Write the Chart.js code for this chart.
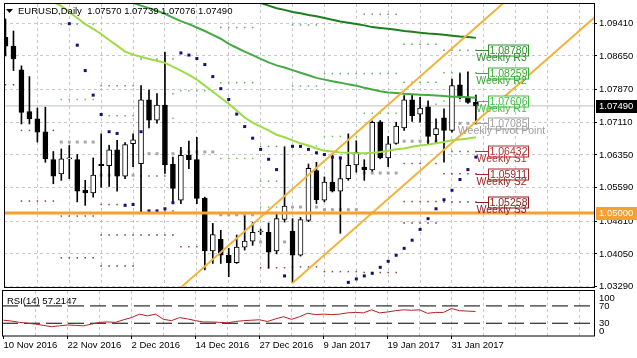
<!DOCTYPE html>
<html><head><meta charset="utf-8">
<script src="https://cdn.jsdelivr.net/npm/chart.js@4.4.1/dist/chart.umd.min.js"></script>
<style>
html,body{margin:0;padding:0;background:#fff;overflow:hidden}
#wrap{position:relative;width:637px;height:358px;background:#fff}
#main{position:absolute;left:0;top:0}
#rsi{position:absolute;left:0;top:289px}
</style></head><body>
<div id="wrap"><canvas id="main" width="637" height="291"></canvas><canvas id="rsi" width="637" height="69"></canvas></div>
<script>
// ---------- DATA ----------
const symbolTitle = 'EURUSD,Daily';
const dateTickLabels = ['10 Nov 2016','22 Nov 2016','2 Dec 2016','14 Dec 2016','27 Dec 2016','9 Jan 2017','19 Jan 2017','31 Jan 2017'];
const dateTickBars = [0,8,16,24,32,40,48,56];
const priceTickLabels = ['1.09410','1.08650','1.07870','1.07110','1.06350','1.05590','1.04810','1.04050','1.03290'];
const rsiTickLabels = ['100','70','30','0'];
const rsiTickValues = [100,70,30,0];
const rsiLevels = [70,30];

const opens  = [1.0908,1.0888,1.0833,1.0736,1.0719,1.0689,1.0624,1.0591,1.0626,1.0624,
                1.0553,1.0547,1.0613,1.0610,1.0647,1.0586,1.0661,1.0615,1.0763,1.0716,
                1.0751,1.0613,1.0530,1.0635,1.0624,1.0535,1.0412,1.0439,1.0402,1.0385,
                1.0421,1.0435,1.0456,1.0455,1.0412,1.0485,1.0458,1.0402,1.0483,1.0599,
                1.0530,1.0572,1.0551,1.0580,1.0612,1.0607,1.0600,1.0712,1.0628,1.0662,
                1.0698,1.0763,1.0730,1.0747,1.0682,1.0721,1.0692,1.0798,1.0768,1.07570];
const highs  = [1.0951,1.0923,1.0842,1.0817,1.0744,1.0746,1.0643,1.0649,1.0657,1.0636,
                1.0576,1.0628,1.0684,1.0657,1.0669,1.0664,1.0684,1.0796,1.0786,1.0777,
                1.0874,1.0630,1.0653,1.0667,1.0676,1.0537,1.0476,1.0460,1.0418,1.0449,
                1.0493,1.0478,1.0463,1.0477,1.0499,1.0653,1.0487,1.0490,1.0614,1.0618,
                1.0584,1.0638,1.0630,1.0684,1.0668,1.0624,1.0714,1.0715,1.0678,1.0711,
                1.0773,1.0775,1.0769,1.0761,1.0719,1.0742,1.0811,1.0824,1.0828,1.07739];
const lows   = [1.0865,1.0831,1.0707,1.0707,1.0665,1.0618,1.0568,1.0576,1.0580,1.0526,
                1.0518,1.0537,1.0560,1.0562,1.0551,1.0580,1.0608,1.0503,1.0698,1.0709,
                1.0592,1.0524,1.0522,1.0603,1.0522,1.0368,1.0383,1.0383,1.0352,1.0383,
                1.0414,1.0425,1.0450,1.0372,1.0405,1.0479,1.0338,1.0400,1.0480,1.0522,
                1.0526,1.0549,1.0453,1.0576,1.0595,1.0576,1.0597,1.0626,1.0608,1.0660,
                1.0692,1.0713,1.0711,1.0661,1.0661,1.0618,1.0688,1.0765,1.0755,1.07076];
const closes = [1.0888,1.0858,1.0734,1.0719,1.0688,1.0626,1.0586,1.0626,1.0628,1.0551,
                1.0547,1.0588,1.0610,1.0647,1.0586,1.0659,1.0670,1.0763,1.0716,1.0751,
                1.0612,1.0557,1.0634,1.0624,1.0534,1.0412,1.0450,1.0402,1.0385,1.0421,
                1.0435,1.0455,1.0457,1.0409,1.0487,1.0516,1.0402,1.0485,1.0604,1.0531,
                1.0572,1.0551,1.0580,1.0611,1.0641,1.0600,1.0711,1.0628,1.0661,1.0702,
                1.0763,1.0726,1.0744,1.0678,1.0696,1.0692,1.0796,1.0769,1.0757,1.07490];

// moving averages (light green fast, medium green, dark green slow)
const maFast = [null,null,null,null,null,1.1006,1.0990,1.0981,1.0967,1.0953,
                1.0939,1.0928,1.0916,1.0902,1.0889,1.0875,1.0868,1.0863,1.0858,1.0854,
                1.0849,1.0840,1.0831,1.0821,1.0810,1.0796,1.0782,1.0768,1.0754,1.0738,
                1.0722,1.0710,1.0701,1.0692,1.0682,1.0676,1.0669,1.0662,1.0657,1.0650,
                1.0645,1.0643,1.0641,1.0640,1.0639,1.0639,1.0640,1.0642,1.0645,1.0648,
                1.0650,1.0654,1.0657,1.0659,1.0662,1.0665,1.0669,1.0671,1.0673,1.0676];
const maMid  = [null,null,null,null,null,null,null,null,null,null,
                null,null,null,null,1.1002,1.0993,1.0988,1.0982,1.0976,1.0970,
                1.0963,1.0954,1.0946,1.0939,1.0931,1.0923,1.0914,1.0905,1.0893,1.0884,
                1.0875,1.0867,1.0858,1.0850,1.0843,1.0838,1.0832,1.0826,1.0820,1.0814,
                1.0810,1.0806,1.0803,1.0799,1.0796,1.0791,1.0787,1.0783,1.0780,1.0779,
                1.0777,1.0776,1.0775,1.0774,1.0773,1.0772,1.0770,1.0770,1.0769,1.0768];
const maSlow = [null,null,null,null,null,null,null,null,null,null,
                null,null,null,null,null,null,null,null,null,null,
                null,null,null,null,null,null,null,null,null,null,
                1.1007,1.0997,1.0988,1.0982,1.0976,1.0972,1.0967,1.0964,1.0960,1.0957,
                1.0953,1.0949,1.0945,1.0942,1.0939,1.0936,1.0932,1.0930,1.0928,1.0926,
                1.0923,1.0921,1.0919,1.0917,1.0916,1.0914,1.0912,1.0910,1.0909,1.0907];

// parabolic SAR
const sarValues = [null,null,null,null,null,null,null,null,1.0940,1.0890,
                   1.0831,1.0774,1.0729,1.0689,1.0685,1.0518,1.0520,1.0689,1.0505,1.0505,
                   1.0510,1.0524,1.0872,1.0867,1.0859,1.0845,1.0817,1.0789,1.0764,1.0730,
                   1.0701,1.0674,1.0648,1.0625,1.0601,1.0354,1.0655,1.0655,1.0648,1.0640,
                   1.0636,1.0630,1.0628,1.0339,1.0347,1.0354,1.0360,1.0374,1.0388,1.0402,
                   1.0418,1.0437,1.0462,1.0487,1.0510,1.0531,1.0553,1.0578,1.0601,1.0630];

// RSI(14)
const rsiValues = [37,35,32,30,28,25,22,24,26,25,24,28,32,33,32,38,43,51,47,51,
                   39,36,43,40,36,33,33,32,31,34,36,37,38,34,40,45,39,45,53,50,
                   51,50,51,54,55,54,61,54,56,59,61,60,61,53,55,55,64,59,58,57.2147];

// weekly pivot levels (one entry per week)
const pivotWeekFirstBar = [0,2,7,12,17,22,27,32,36,40,45,50,55];
const pivotWeekLastBar  = [1,6,11,16,21,26,31,35,39,44,49,54,59];
const pivotR3 = [null,null,null,1.0796,1.0858,null,1.0931,1.0655,1.0937,null,1.0962,1.0892,1.08780];
const pivotR2 = [null,null,1.0939,1.0726,1.0777,null,1.0803,1.0574,1.0795,1.0824,1.0824,1.0804,1.08259];
const pivotR1 = [null,null,1.0764,1.0657,1.0720,1.0784,1.0627,1.0514,1.0656,1.0678,1.0732,1.0753,1.07606];
const pivotPP = [null,null,1.0665,1.0588,1.0638,1.0642,1.0496,1.0433,1.0514,1.0508,1.0593,1.0667,1.07085];
const pivotS1 = [null,1.0692,1.0493,1.0520,1.0586,1.0422,null,1.0373,1.0375,1.0364,1.0501,1.0615,1.06432];
const pivotS2 = [1.0869,1.0528,1.0396,1.0449,1.0505,null,null,null,null,null,1.0362,1.0527,1.05911];
const pivotS3 = [1.0798,null,null,1.0377,1.0449,null,null,null,null,null,null,1.0477,1.05258];

// trend channel (bar index, price) and horizontal level
const channelUpperBars = [20,75];
const channelUpperPrices = [1.02945,1.11928];
const channelLowerBars = [36,75];
const channelLowerPrices = [1.03378,1.09727];
const hLevel = 1.05000;

// ---------- SETUP ----------
const FONT_FAMILY = "'Liberation Sans', Arial, sans-serif";
const pxFont = s => s + "px " + FONT_FAMILY;
Chart.defaults.font.family = FONT_FAMILY;
Chart.defaults.font.size = 9.5;
Chart.defaults.color = '#000';

const X_MIN = -0.1875, X_MAX = 73.8125;
const Y_MIN = 1.032827, Y_MAX = 1.098568;
const gridBars = []; for (let b = 4; b <= 72; b += 4) gridBars.push(b);
const rsiAxisBars = []; for (let b = 0; b <= 72; b += 4) rsiAxisBars.push(b);
const GRID = '#c8c8c8';

const bars = opens.map((_, i) => i);
const toPts = arr => { const o = []; arr.forEach((v, i) => { if (v !== null) o.push({x: i, y: v}); }); return o; };
const lineDs = (data, color, width, order, extra) => Object.assign({type: 'line', data, borderColor: color, borderWidth: width, pointRadius: 0, tension: 0, fill: false, order}, extra || {});

const pivotDefs = [
  {arr: pivotR3, dot: '#5f9f5f', r: 1.06, label: 'Weekly R3', color: '#2f8f2f'},
  {arr: pivotR2, dot: '#5fae5f', r: 1.06, label: 'Weekly R2', color: '#3aa83a'},
  {arr: pivotR1, dot: '#66c066', r: 1.06, label: 'Weekly R1', color: '#44bb44'},
  {arr: pivotPP, dot: '#a8a8a8', r: 2.12, label: 'Weekly Pivot Point', color: '#a0a0a0'},
  {arr: pivotS1, dot: '#a04040', r: 1.06, label: 'Weekly S1', color: '#b03030'},
  {arr: pivotS2, dot: '#903838', r: 1.06, label: 'Weekly S2', color: '#a02424'},
  {arr: pivotS3, dot: '#803030', r: 1.06, label: 'Weekly S3', color: '#8b1a1a'}
];
const pivotDatasets = pivotDefs.map(d => {
  const pts = [];
  pivotWeekFirstBar.forEach((b0, w) => {
    const v = d.arr[w]; if (v === null) return;
    for (let b = b0; b <= pivotWeekLastBar[w]; b++) pts.push({x: b, y: v});
  });
  return {type: 'line', data: pts, showLine: false, pointStyle: 'rect', pointRadius: d.r, pointBorderWidth: 0, pointBackgroundColor: d.dot, order: 20};
});

const datasets = [
  lineDs([{x: X_MIN, y: closes[closes.length-1]}, {x: X_MAX, y: closes[closes.length-1]}], '#c0c0c0', 1, 25),
  ...pivotDatasets,
  {type: 'bar', data: bars.map(i => ({x: i, y: [lows[i], highs[i]]})), backgroundColor: '#000', borderWidth: 0, barThickness: 1, grouped: false, order: 15},
  {type: 'bar', data: bars.map(i => ({x: i, y: [opens[i], closes[i]]})), backgroundColor: bars.map(i => closes[i] >= opens[i] ? '#ffffff' : '#000000'),
   borderColor: '#000', borderWidth: 1, borderSkipped: false, barThickness: 5, minBarLength: 1, grouped: false, order: 14},
  {type: 'line', data: toPts(sarValues), showLine: false, pointStyle: 'rect', pointRadius: 2.12, pointBorderWidth: 0, pointBackgroundColor: '#10107a', order: 10},
  lineDs(toPts(maSlow), '#1f7f1f', 2, 8),
  lineDs(toPts(maMid), '#44aa44', 2, 7),
  lineDs(toPts(maFast), '#9ddc45', 2, 6),
  lineDs(channelUpperBars.map((b, k) => ({x: b, y: channelUpperPrices[k]})), '#f0b43c', 2, 4),
  lineDs(channelLowerBars.map((b, k) => ({x: b, y: channelLowerPrices[k]})), '#f0b43c', 2, 4),
  lineDs([{x: X_MIN, y: hLevel}, {x: X_MAX, y: hLevel}], '#f5a030', 3, 2)
];

const mainOverlay = {
  id: 'mainOverlay',
  afterDatasetsDraw(chart) {
    const {ctx, scales: {x, y}} = chart;
    ctx.save();
    const w = pivotWeekLastBar.length - 1;
    const x0 = Math.round(x.getPixelForValue(pivotWeekLastBar[w]));
    pivotDefs.forEach(d => {
      const v = d.arr[w];
      const py = Math.round(y.getPixelForValue(v)) + 0.5;
      ctx.strokeStyle = d.color; ctx.lineWidth = 1;
      ctx.beginPath(); ctx.moveTo(x0, py); ctx.lineTo(x0 + 12, py); ctx.stroke();
      const bx = x0 + 12.5, bw = 40, bh = 11;
      ctx.fillStyle = '#ffffff'; ctx.fillRect(bx, py - 5.5, bw, bh);
      ctx.strokeRect(bx, py - 5.5, bw, bh);
      ctx.fillStyle = d.color; ctx.font = pxFont(10.5); ctx.textAlign = 'center'; ctx.textBaseline = 'middle';
      ctx.fillText(v.toFixed(5), bx + bw / 2, py + 0.5);
      ctx.fillText(d.label, bx + 13, py + 7.5);
    });
    ctx.fillStyle = '#000';
    ctx.beginPath(); ctx.moveTo(6, 9); ctx.lineTo(13, 9); ctx.lineTo(9.5, 13); ctx.closePath(); ctx.fill();
    ctx.font = pxFont(9.5); ctx.textAlign = 'left'; ctx.textBaseline = 'middle';
    const n = closes.length - 1;
    ctx.fillText(symbolTitle + '  ' + [opens[n], highs[n], lows[n], closes[n]].map(v => v.toFixed(5)).join(' '), 18, 11);
    ctx.restore();
  },
  afterDraw(chart) {
    const {ctx, chartArea: ca, scales: {y}} = chart;
    ctx.save();
    ctx.strokeStyle = '#000'; ctx.lineWidth = 1;
    ctx.strokeRect(ca.left + 0.5, ca.top - 0.5, ca.right - ca.left, ca.bottom - ca.top + 1);
    const boxes = [{v: closes[closes.length - 1], bg: '#000000'}, {v: hLevel, bg: '#f5a030'}];
    boxes.forEach(b => {
      const py = Math.round(y.getPixelForValue(b.v));
      ctx.fillStyle = b.bg; ctx.fillRect(ca.right + 2, py - 6, 637 - ca.right - 2, 13);
      ctx.fillStyle = '#fff'; ctx.font = pxFont(9.5); ctx.textAlign = 'left'; ctx.textBaseline = 'middle';
      ctx.fillText(b.v.toFixed(5), ca.right + 5, py + 0.5);
    });
    ctx.restore();
  }
};

new Chart(document.getElementById('main'), {
  type: 'line',
  data: {datasets},
  options: {
    responsive: false, animation: false, events: [],
    layout: {padding: {left: 2, top: 3, right: 0, bottom: 4}},
    plugins: {legend: {display: false}, tooltip: {enabled: false}},
    scales: {
      x: {type: 'linear', min: X_MIN, max: X_MAX, offset: false,
          afterBuildTicks: s => { s.ticks = gridBars.map(v => ({value: v})); },
          ticks: {display: false}, grid: {color: GRID, drawTicks: false, offset: false}, border: {display: false, dash: [3, 3]},
          afterFit: s => { s.height = 0; s.paddingLeft = 0; s.paddingRight = 0; }},
      y: {type: 'linear', position: 'right', min: Y_MIN, max: Y_MAX,
          afterBuildTicks: s => { s.ticks = priceTickLabels.map(t => ({value: parseFloat(t)})); },
          ticks: {callback: (v, i) => priceTickLabels[i], color: '#000', font: {size: 9.5}, padding: 2},
          grid: {color: GRID, drawTicks: true, tickLength: 3, tickColor: '#000', tickBorderDash: []},
          border: {display: false, dash: [3, 3]},
          afterFit: s => { s.width = 43; s.paddingTop = 0; s.paddingBottom = 0; }}
    }
  },
  plugins: [mainOverlay]
});

// ---------- RSI PANEL ----------
const rsiOverlay = {
  id: 'rsiOverlay',
  afterDraw(chart) {
    const {ctx, chartArea: ca, scales: {y}} = chart;
    ctx.save();
    ctx.strokeStyle = '#000'; ctx.lineWidth = 1;
    ctx.strokeRect(ca.left + 0.5, ca.top - 0.5, ca.right - ca.left, ca.bottom - ca.top + 0.5);
    ctx.fillStyle = '#000'; ctx.font = pxFont(9.5); ctx.textBaseline = 'middle'; ctx.textAlign = 'left';
    ctx.fillText('RSI(14) ' + rsiValues[rsiValues.length - 1].toFixed(4), 7, ca.top + 10);
    rsiTickValues.forEach((v, k) => {
      let py = y.getPixelForValue(v);
      py = Math.max(ca.top + 7, Math.min(ca.bottom - 5, py));
      ctx.fillText(rsiTickLabels[k], ca.right + 5, py);
    });
    ctx.restore();
  }
};

new Chart(document.getElementById('rsi'), {
  type: 'line',
  data: {datasets: [
    ...rsiLevels.map(l => lineDs([{x: X_MIN, y: l}, {x: X_MAX, y: l}], '#000', 1, 5, {borderDash: [16, 6]})),
    lineDs(toPts(rsiValues), '#b22222', 1, 1)
  ]},
  options: {
    responsive: false, animation: false, events: [],
    layout: {padding: {left: 2, top: 2, right: 0, bottom: 0}},
    plugins: {legend: {display: false}, tooltip: {enabled: false}},
    scales: {
      x: {type: 'linear', min: X_MIN, max: X_MAX, position: 'bottom', offset: false,
          afterBuildTicks: s => { s.ticks = rsiAxisBars.map(v => ({value: v})); },
          ticks: {autoSkip: false, maxRotation: 0, minRotation: 0, align: 'start', padding: 1, font: {size: 9.5}, color: '#000',
                  callback: v => { const k = dateTickBars.indexOf(v); return k >= 0 ? dateTickLabels[k] : ''; }},
          grid: {color: c => (c.tick && c.tick.value === 0) ? 'rgba(0,0,0,0)' : GRID, drawTicks: true, tickLength: 3, offset: false,
                 tickColor: c => (c.tick && dateTickBars.includes(c.tick.value)) ? '#000' : 'rgba(0,0,0,0)'},
          border: {display: false, dash: [3, 3]},
          afterFit: s => { s.height = 22; s.paddingLeft = 0; s.paddingRight = 0; }},
      y: {type: 'linear', position: 'right', min: 0.5, max: 104.5,
          ticks: {display: false}, grid: {display: false}, border: {display: false},
          afterFit: s => { s.width = 43; s.paddingTop = 0; s.paddingBottom = 0; }}
    }
  },
  plugins: [rsiOverlay]
});
</script>
</body></html>
